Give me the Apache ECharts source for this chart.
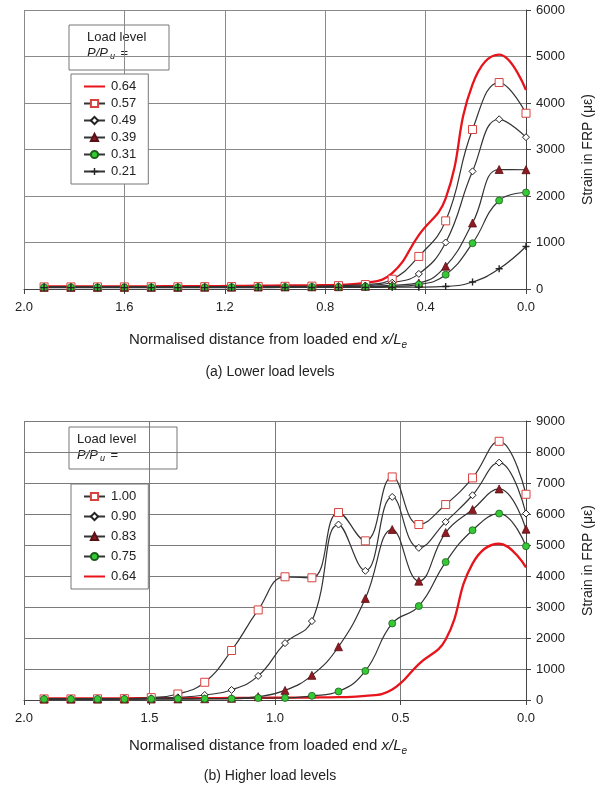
<!DOCTYPE html>
<html>
<head>
<meta charset="utf-8">
<script src="https://cdn.jsdelivr.net/npm/echarts@6/dist/echarts.min.js"></script>
<style>
  html, body { margin: 0; padding: 0; background: #fff; }
  #chart { width: 608px; height: 787px; }
</style>
</head>
<body>
<div id="chart"></div>
<script>
// Normalised distance x/Le of each gauge (loaded end at 0)
const xPos = [1.92, 1.813, 1.707, 1.6, 1.493, 1.387, 1.28, 1.173, 1.067, 0.96,
              0.853, 0.747, 0.64, 0.533, 0.427, 0.32, 0.213, 0.107, 0.0];

// Strain in FRP (με) – lower load levels P/Pu
const strain064 = [55, 55, 55, 55, 58, 60, 62, 65, 70, 75, 80, 90, 130, 340, 1160, 1950, 4400, 5040, 4280];
const strain057 = [45, 45, 45, 45, 48, 48, 50, 52, 55, 58, 62, 72, 95, 210, 700, 1465, 3430, 4440, 3780];
const strain049 = [40, 40, 40, 40, 40, 42, 42, 45, 48, 50, 52, 58, 75, 135, 325, 1000, 2530, 3650, 3265];
const strain039 = [35, 35, 35, 35, 35, 35, 38, 40, 42, 45, 47, 50, 57, 80, 130, 490, 1420, 2570, 2565];
const strain031 = [35, 35, 35, 35, 35, 35, 38, 40, 42, 42, 45, 45, 50, 55, 95, 308, 985, 1903, 2075];
const strain021 = [30, 30, 30, 30, 30, 30, 30, 30, 30, 32, 32, 35, 35, 38, 40, 55, 150, 435, 915];

// Strain in FRP (με) – higher load levels P/Pu
const strain100 = [35, 35, 38, 43, 76, 194, 572, 1597, 2905, 3974, 3942, 6047, 5134, 7196, 5660, 6304, 7164, 8345, 6637];
const strain090 = [35, 35, 35, 40, 54, 86, 162, 324, 777, 1835, 2545, 5660, 4167, 6551, 4908, 5746, 6605, 7658, 6014];
const strain083 = [30, 30, 30, 30, 32, 35, 40, 54, 108, 310, 795, 1718, 3276, 5499, 3834, 5402, 6143, 6809, 5510];
const strain075 = [30, 30, 30, 32, 35, 38, 40, 43, 65, 65, 135, 275, 937, 2470, 3029, 4450, 5477, 6014, 4962];

const lowerLegend = ['0.64', '0.57', '0.49', '0.39', '0.31', '0.21'];
const higherLegend = ['1.00', '0.90', '0.83', '0.75', '0.64'];

const lowerXTicks = { min: 0, max: 2, interval: 0.4 };
const higherXTicks = { min: 0, max: 2, interval: 0.5 };
const lowerYTicks = { min: 0, max: 6000, interval: 1000 };
const higherYTicks = { min: 0, max: 9000, interval: 1000 };

const FONT = '"Liberation Sans", Arial, sans-serif';
const plusPath = 'path://M4,0h2v4h4v2h-4v4h-2v-4h-4v-2h4z';
// plain line swatch for the unmarked series (tiny corner dots fix the icon box)
const lineIcon = 'path://M0,0h0.01v0.01h-0.01z M0,3.4h21v2.2h-21z M20.99,8.99h0.01v0.01h-0.01z';
const unmarkedName = '0.64';

const markerStyles = {
  square:   { symbol: 'rect', symbolSize: 8, itemStyle: { color: '#fff', borderColor: '#d9423f', borderWidth: 1 } },
  diamond:  { symbol: 'diamond', symbolSize: 7, itemStyle: { color: '#fff', borderColor: '#222', borderWidth: 1 } },
  triangle: { symbol: 'triangle', symbolSize: 8, itemStyle: { color: '#8e1b22', borderColor: '#5a0f14', borderWidth: 0.8 } },
  circle:   { symbol: 'circle', symbolSize: 7, itemStyle: { color: '#35c935', borderColor: '#1d5e1d', borderWidth: 0.8 } },
  plus:     { symbol: plusPath, symbolSize: 7, itemStyle: { color: '#222' } }
};

function pairs(values) {
  return xPos.map((x, i) => [x, values[i]]);
}

function markedSeries(name, values, gridIdx, marker) {
  const m = markerStyles[marker];
  return {
    name: name,
    type: 'line',
    xAxisIndex: gridIdx,
    yAxisIndex: gridIdx,
    data: pairs(values),
    smooth: 0.45,
    symbol: m.symbol,
    symbolSize: m.symbolSize,
    showSymbol: true,
    itemStyle: m.itemStyle,
    lineStyle: { color: '#333', width: 1.2 },
    z: 3
  };
}

function redSeries(gridIdx) {
  return {
    name: unmarkedName,
    type: 'line',
    xAxisIndex: gridIdx,
    yAxisIndex: gridIdx,
    data: pairs(strain064),
    smooth: 0.45,
    symbol: 'none',
    showSymbol: false,
    itemStyle: { color: '#e8141c' },
    lineStyle: { color: '#e8141c', width: 2.3 },
    z: 2
  };
}

function xAxisCfg(gridIdx, ticks, gridColor) {
  return {
    type: 'value',
    gridIndex: gridIdx,
    inverse: true,
    min: ticks.min, max: ticks.max, interval: ticks.interval,
    axisLine: { show: true, onZero: false, lineStyle: { color: '#444', width: 1 } },
    axisTick: { show: true, inside: false, length: 5, lineStyle: { color: '#444' } },
    axisLabel: { margin: 12, fontSize: 13, color: '#222', fontFamily: FONT,
                 formatter: v => v.toFixed(1) },
    splitLine: { show: true, lineStyle: { color: gridColor, width: 1 } }
  };
}

function yAxisCfg(gridIdx, ticks, gridColor) {
  return {
    type: 'value',
    gridIndex: gridIdx,
    position: 'right',
    min: ticks.min, max: ticks.max, interval: ticks.interval,
    name: 'Strain in FRP (με)',
    nameLocation: 'middle',
    nameRotate: 90,
    nameGap: 55,
    nameTextStyle: { fontSize: 14, color: '#222', fontFamily: FONT },
    axisLine: { show: true, lineStyle: { color: '#444', width: 1 } },
    axisTick: { show: true, inside: false, length: 5, lineStyle: { color: '#444' } },
    axisLabel: { margin: 10, fontSize: 13, color: '#222', fontFamily: FONT,
                 formatter: v => String(v) },
    splitLine: { show: true, lineStyle: { color: gridColor, width: 1 } }
  };
}

function legendCfg(names, top, gap) {
  return {
    data: names.map(n => n === unmarkedName ? { name: n, icon: lineIcon } : n),
    orient: 'vertical',
    left: 71,
    top: top,
    backgroundColor: '#fff',
    borderColor: '#777',
    borderWidth: 1,
    borderRadius: 0,
    padding: [6, 12, 6, 12],
    itemWidth: 21,
    itemHeight: 9,
    itemGap: gap,
    selectedMode: false,
    textStyle: { fontSize: 13, lineHeight: 13, color: '#222', fontFamily: FONT, padding: [0, 0, 0, 1] }
  };
}

function headerBox(x, y, w, h, textX) {
  const c = '#222';
  return {
    type: 'group',
    z: 100,
    children: [
      { type: 'rect', shape: { x: x, y: y, width: w, height: h },
        style: { fill: '#fff', stroke: '#777', lineWidth: 1 } },
      { type: 'text', x: textX, y: y + 12, style: { text: 'Load level', fill: c,
        font: '13px ' + FONT, textVerticalAlign: 'middle' } },
      { type: 'text', x: textX, y: y + 28, style: {
        text: '{i|P/P}{s|u}{n| =}',
        fill: c, font: '13px ' + FONT, textVerticalAlign: 'middle',
        rich: {
          i: { fontStyle: 'italic', fontSize: 13, fontFamily: FONT, lineHeight: 16, verticalAlign: 'middle' },
          s: { fontStyle: 'italic', fontSize: 9, fontFamily: FONT, lineHeight: 16, verticalAlign: 'bottom', padding: [0, 0, 0, 2] },
          n: { fontSize: 13, fontFamily: FONT, lineHeight: 16, verticalAlign: 'middle', padding: [0, 0, 0, 2] }
        } } }
    ]
  };
}

function axisTitle(y) {
  return {
    type: 'text', x: 268, y: y, z: 100,
    style: {
      text: 'Normalised distance from loaded end {i|x/L}{s|e}',
      fill: '#222', font: '15px ' + FONT, textAlign: 'center', textVerticalAlign: 'middle',
      rich: {
        i: { fontStyle: 'italic', fontSize: 15, fontFamily: FONT, lineHeight: 20, verticalAlign: 'middle' },
        s: { fontStyle: 'italic', fontSize: 10, fontFamily: FONT, lineHeight: 20, verticalAlign: 'bottom' }
      }
    }
  };
}

function caption(text, y) {
  return {
    type: 'text', x: 270, y: y, z: 100,
    style: { text: text, fill: '#222', font: '14px ' + FONT, textAlign: 'center', textVerticalAlign: 'middle' }
  };
}

const chart = echarts.init(document.getElementById('chart'), null, { renderer: 'canvas' });

chart.setOption({
  animation: false,
  backgroundColor: '#fff',
  textStyle: { fontFamily: FONT },
  grid: [
    { left: 24, right: 82, top: 10, height: 279, containLabel: false },
    { left: 24, right: 82, top: 421, height: 279, containLabel: false }
  ],
  xAxis: [xAxisCfg(0, lowerXTicks, '#8a8a8a'), xAxisCfg(1, higherXTicks, '#7a7a7a')],
  yAxis: [yAxisCfg(0, lowerYTicks, '#8a8a8a'), yAxisCfg(1, higherYTicks, '#7a7a7a')],
  legend: [legendCfg(lowerLegend, 74, 4), legendCfg(higherLegend, 484, 7)],
  graphic: [
    headerBox(69, 25, 100, 45, 87),
    headerBox(69, 427, 108, 42, 77),
    axisTitle(340),
    caption('(a) Lower load levels', 372),
    axisTitle(746),
    caption('(b) Higher load levels', 776)
  ],
  series: [
    redSeries(0),
    markedSeries('0.57', strain057, 0, 'square'),
    markedSeries('0.49', strain049, 0, 'diamond'),
    markedSeries('0.39', strain039, 0, 'triangle'),
    markedSeries('0.31', strain031, 0, 'circle'),
    markedSeries('0.21', strain021, 0, 'plus'),
    markedSeries('1.00', strain100, 1, 'square'),
    markedSeries('0.90', strain090, 1, 'diamond'),
    markedSeries('0.83', strain083, 1, 'triangle'),
    markedSeries('0.75', strain075, 1, 'circle'),
    redSeries(1)
  ]
});
</script>
</body>
</html>
